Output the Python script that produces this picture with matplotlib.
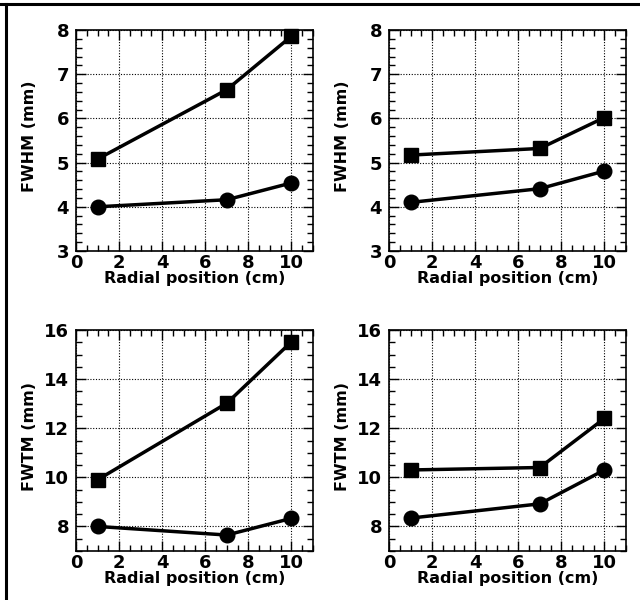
import matplotlib
matplotlib.use("Agg")
import matplotlib.pyplot as plt
from matplotlib.ticker import MultipleLocator
from matplotlib.lines import Line2D

plt.rcParams['font.family'] = ['DejaVu Sans']
plt.rcParams['font.weight'] = 'bold'

radial = [1, 7, 10]

fwhm_left_sq = [5.08, 6.65, 7.86]
fwhm_left_ci = [4.00, 4.16, 4.54]
fwhm_right_sq = [5.17, 5.32, 6.02]
fwhm_right_ci = [4.10, 4.41, 4.81]

fwtm_left_sq = [9.90, 13.02, 15.52]
fwtm_left_ci = [8.00, 7.65, 8.33]
fwtm_right_sq = [10.30, 10.40, 12.40]
fwtm_right_ci = [8.34, 8.92, 10.30]

xlabel = "Radial position (cm)"

fig = plt.figure(figsize=(6.4, 6.0), dpi=100)

W = 237 / 640
H = 221 / 600
positions = {
    'tl': [76 / 640, 1 - 251 / 600, W, H],
    'tr': [389 / 640, 1 - 251 / 600, W, H],
    'bl': [76 / 640, 1 - 551 / 600, W, H],
    'br': [389 / 640, 1 - 551 / 600, W, H],
}

panels = [
    ('tl', fwhm_left_sq, fwhm_left_ci, "FWHM (mm)", (3, 8), 1, 0.2),
    ('tr', fwhm_right_sq, fwhm_right_ci, "FWHM (mm)", (3, 8), 1, 0.2),
    ('bl', fwtm_left_sq, fwtm_left_ci, "FWTM (mm)", (7, 16), 2, 0.5),
    ('br', fwtm_right_sq, fwtm_right_ci, "FWTM (mm)", (7, 16), 2, 0.5),
]

for key, sq, ci, ylab, ylim, ymaj, ymin in panels:
    ax = fig.add_axes(positions[key])
    ax.plot(radial, sq, color='black', lw=2.5, marker='s', ms=10.5,
            mfc='black', mec='black', zorder=3, clip_on=False)
    ax.plot(radial, ci, color='black', lw=2.5, marker='o', ms=10.5,
            mfc='black', mec='black', zorder=3, clip_on=False)
    ax.set_xlim(0, 11)
    ax.set_ylim(*ylim)
    ax.xaxis.set_major_locator(MultipleLocator(2))
    ax.xaxis.set_minor_locator(MultipleLocator(0.5))
    if ylim[0] == 7:
        ax.set_yticks([8, 10, 12, 14, 16])
    else:
        ax.yaxis.set_major_locator(MultipleLocator(ymaj))
    ax.yaxis.set_minor_locator(MultipleLocator(ymin))
    ax.grid(True, which='major', color='black', linestyle=(0, (1, 1.5)), lw=0.8)
    ax.tick_params(which='both', direction='in', top=True, right=True,
                   labelsize=13, width=1.0)
    ax.tick_params(which='major', length=7)
    ax.tick_params(which='minor', length=4)
    ax.tick_params(axis='x', which='major', pad=2)
    ax.tick_params(axis='y', which='major', pad=5)
    for lab in ax.get_xticklabels() + ax.get_yticklabels():
        lab.set_fontweight('bold')
    for sp in ax.spines.values():
        sp.set_linewidth(1.2)
    ax.set_xlabel(xlabel, fontsize=11.5, fontweight='bold')
    ax.set_ylabel(ylab, fontsize=11.5, fontweight='bold')
    ax.xaxis.set_label_coords(0.5, -0.09)
    ax.yaxis.set_label_coords(-0.165, 0.52)

# partial figure frame (top and left)
fig.add_artist(Line2D([0, 1], [1 - 4 / 600, 1 - 4 / 600], transform=fig.transFigure,
                      color='black', lw=2.2))
fig.add_artist(Line2D([6 / 640, 6 / 640], [0, 1 - 4 / 600], transform=fig.transFigure,
                      color='black', lw=2.2))

fig.savefig("out.png", dpi=100)
